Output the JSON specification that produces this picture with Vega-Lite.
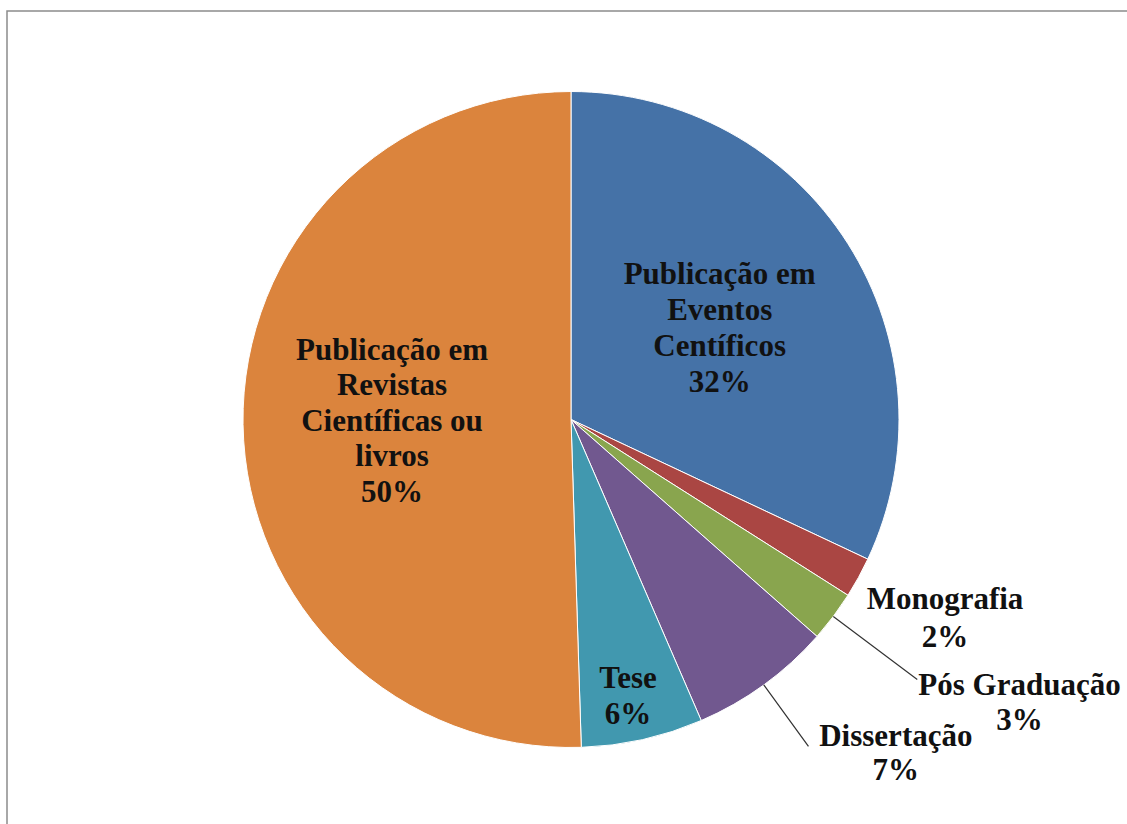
{
  "$schema": "https://vega.github.io/schema/vega-lite/v6.json",
  "width": 1128,
  "height": 817,
  "autosize": {"type": "none"},
  "padding": {"left": 7, "top": 11, "right": 0, "bottom": 0},
  "background": "white",
  "config": {"view": {"stroke": null}},
  "data": {
    "values": [
      {"cat": "Publicação em Eventos Centíficos", "value": 32.0, "ord": 1, "lbl": "Publicação em\nEventos\nCentíficos\n32%"},
      {"cat": "Monografia", "value": 2.0, "ord": 2, "lbl": "Monografia\n2%"},
      {"cat": "Pós Graduação", "value": 2.5, "ord": 3, "lbl": "Pós Graduação\n3%"},
      {"cat": "Dissertação", "value": 7.0, "ord": 4, "lbl": "Dissertação\n7%"},
      {"cat": "Tese", "value": 6.0, "ord": 5, "lbl": "Tese\n6%"},
      {"cat": "Publicação em Revistas Científicas ou livros", "value": 50.5, "ord": 6, "lbl": "Publicação em\nRevistas\nCientíficas ou\nlivros\n50%"}
    ]
  },
  "layer": [
    {
      "data": {"values": [{"frame": 1}]},
      "mark": {"type": "rect", "fill": null, "stroke": "#8c8c8c", "strokeWidth": 1.5},
      "encoding": {}
    },
    {
      "encoding": {
        "theta": {"field": "value", "type": "quantitative", "stack": true},
        "order": {"field": "ord", "type": "quantitative"},
        "detail": {"field": "cat", "type": "nominal"}
      },
      "layer": [
        {
          "mark": {"type": "arc", "outerRadius": 328, "stroke": "white", "strokeWidth": 1},
          "encoding": {
            "color": {
              "field": "cat", "type": "nominal", "legend": null,
              "scale": {
                "domain": ["Publicação em Eventos Centíficos", "Monografia", "Pós Graduação", "Dissertação", "Tese", "Publicação em Revistas Científicas ou livros"],
                "range": ["#4572A7", "#AA4643", "#89A54E", "#71588F", "#4198AF", "#DB843D"]
              }
            }
          }
        },
        {
          "mark": {"type": "arc", "outerRadius": 433, "innerRadius": 328, "padAngle": 3, "filled": false, "color": "#333333", "strokeWidth": 1.2},
          "encoding": {
            "strokeOpacity": {"condition": {"test": "datum.cat === 'Pós Graduação'", "value": 1}, "value": 0}
          }
        },
        {
          "mark": {"type": "arc", "outerRadius": 404, "innerRadius": 328, "padAngle": 3, "filled": false, "color": "#333333", "strokeWidth": 1.2},
          "encoding": {
            "strokeOpacity": {"condition": {"test": "datum.cat === 'Dissertação'", "value": 1}, "value": 0}
          }
        },
        {
          "mark": {"type": "text", "radius": 174, "thetaOffset": 0.019, "dy": -54, "font": "Liberation Serif", "fontWeight": "bold", "fontSize": 31, "lineHeight": 36, "align": "center", "baseline": "middle", "lineBreak": "\n", "color": "#111111"},
          "encoding": {"text": {"condition": {"test": "datum.ord === 1", "field": "lbl"}, "value": ""}}
        },
        {
          "mark": {"type": "text", "radius": 179, "thetaOffset": 0.002, "dy": -71, "font": "Liberation Serif", "fontWeight": "bold", "fontSize": 31, "lineHeight": 35.5, "align": "center", "baseline": "middle", "lineBreak": "\n", "color": "#111111"},
          "encoding": {"text": {"condition": {"test": "datum.ord === 6", "field": "lbl"}, "value": ""}}
        },
        {
          "mark": {"type": "text", "radius": 283, "thetaOffset": 0.017, "dy": -18, "font": "Liberation Serif", "fontWeight": "bold", "fontSize": 31, "lineHeight": 36, "align": "center", "baseline": "middle", "lineBreak": "\n", "color": "#111111"},
          "encoding": {"text": {"condition": {"test": "datum.ord === 5", "field": "lbl"}, "value": ""}}
        },
        {
          "mark": {"type": "text", "radius": 424, "thetaOffset": -0.012, "dy": -19, "font": "Liberation Serif", "fontWeight": "bold", "fontSize": 31, "lineHeight": 38, "align": "center", "baseline": "middle", "lineBreak": "\n", "color": "#111111"},
          "encoding": {"text": {"condition": {"test": "datum.ord === 2", "field": "lbl"}, "value": ""}}
        },
        {
          "mark": {"type": "text", "radius": 531, "thetaOffset": -0.079, "dy": -17.5, "font": "Liberation Serif", "fontWeight": "bold", "fontSize": 31, "lineHeight": 35, "align": "center", "baseline": "middle", "lineBreak": "\n", "color": "#111111"},
          "encoding": {"text": {"condition": {"test": "datum.ord === 3", "field": "lbl"}, "value": ""}}
        },
        {
          "mark": {"type": "text", "radius": 466, "thetaOffset": -0.143, "dy": -17, "font": "Liberation Serif", "fontWeight": "bold", "fontSize": 31, "lineHeight": 34, "align": "center", "baseline": "middle", "lineBreak": "\n", "color": "#111111"},
          "encoding": {"text": {"condition": {"test": "datum.ord === 4", "field": "lbl"}, "value": ""}}
        }
      ]
    }
  ]
}
